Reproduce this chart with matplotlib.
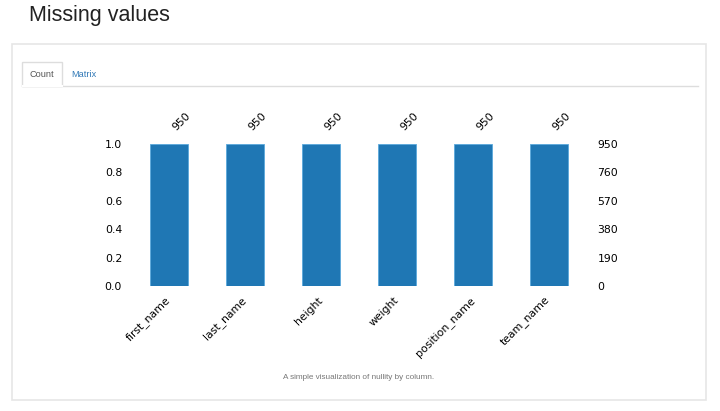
import matplotlib
matplotlib.use("Agg")
import matplotlib.pyplot as plt
import numpy as np
from matplotlib.patches import Rectangle

# column names and non-null counts
columns = ["first_name", "last_name", "height", "weight", "position_name", "team_name"]
counts = [950, 950, 950, 950, 950, 950]
total_rows = 950

W, H = 720, 411
fig = plt.figure(figsize=(7.2, 4.11), dpi=100)

def fx(px):
    return px / W

def fy(py):
    return 1 - py / H

# page header
fig.text(fx(29), fy(16), "Missing values", fontsize=15.5, family="Liberation Sans",
         color="#222222", va="center", ha="left")

# panel box
fig.patches.append(Rectangle((fx(12), fy(400)), fx(706) - fx(12), fy(44) - fy(400),
                             transform=fig.transFigure, fill=False, edgecolor="#e6e6e6", lw=1.2))
# tab underline
fig.lines.append(plt.Line2D([fx(22), fx(698)], [fy(86.5), fy(86.5)], transform=fig.transFigure,
                            color="#dddddd", lw=1))
# active tab
fig.patches.append(Rectangle((fx(22), fy(86.5)), fx(62) - fx(22), fy(62) - fy(86.5),
                             transform=fig.transFigure, facecolor="white", edgecolor="#dddddd", lw=1))
fig.lines.append(plt.Line2D([fx(22.5), fx(61.5)], [fy(86.5), fy(86.5)], transform=fig.transFigure,
                            color="white", lw=1.5))
fig.text(fx(42), fy(74.5), "Count", fontsize=6.6, family="Liberation Sans", color="#555555",
         ha="center", va="center")
fig.text(fx(84), fy(74.5), "Matrix", fontsize=6.6, family="Liberation Sans", color="#337ab7",
         ha="center", va="center")

# bar chart
fs = 7.8
ax = fig.add_axes([fx(123.4), fy(286), fx(594.6) - fx(123.4), fy(144) - fy(286)])
x = np.arange(len(columns))
frac = [c / total_rows for c in counts]
ax.bar(x, frac, width=0.5, color="#1f77b4", edgecolor="#5aa9dc", lw=0.6)
ax.set_xlim(-0.6, len(columns) - 0.4)
ax.set_ylim(0, 1)
for s in ax.spines.values():
    s.set_visible(False)
ax.set_yticks([0, 0.2, 0.4, 0.6, 0.8, 1.0])
ax.set_yticklabels(["0.0", "0.2", "0.4", "0.6", "0.8", "1.0"])
ax.tick_params(axis="y", length=0, pad=1, labelsize=fs)
ax.set_xticks(x)
ax.set_xticklabels(columns, rotation=45, ha="right", va="center", rotation_mode="anchor", fontsize=fs)
ax.tick_params(axis="x", length=0, pad=9)

ax2 = ax.twinx()
ax2.set_ylim(0, 1)
ax2.set_yticks([0, 0.2, 0.4, 0.6, 0.8, 1.0])
ax2.set_yticklabels([str(int(round(total_rows * v))) for v in [0, 0.2, 0.4, 0.6, 0.8, 1.0]])
ax2.tick_params(axis="y", length=0, pad=2, labelsize=fs)
for s in ax2.spines.values():
    s.set_visible(False)

for i, c in zip(x, counts):
    ax.annotate(str(c), (i, 1.0), xytext=(6, 8), textcoords="offset points",
                rotation=45, ha="left", va="bottom", fontsize=fs, rotation_mode="anchor")

fig.text(fx(359), fy(377), "A simple visualization of nullity by column.", fontsize=5.9,
         family="Liberation Sans", color="#777777", ha="center", va="center")

fig.savefig("out.png", dpi=100)
